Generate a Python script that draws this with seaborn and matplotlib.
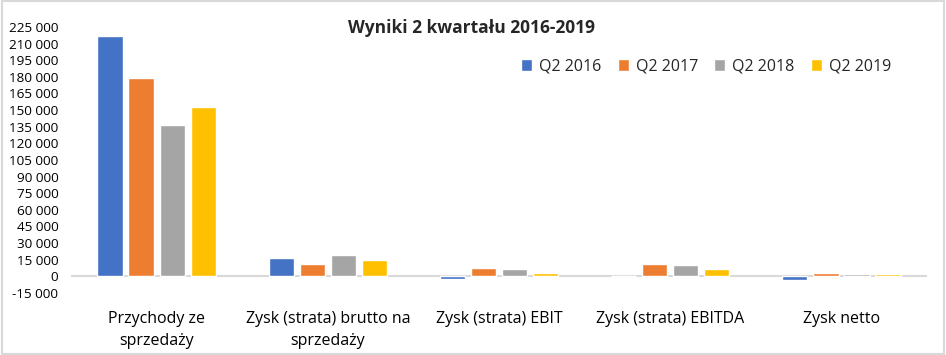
import matplotlib
matplotlib.use("Agg")
import matplotlib.pyplot as plt
import seaborn as sns
import pandas as pd
from matplotlib.ticker import FuncFormatter, MultipleLocator
from matplotlib.patches import Rectangle

categories = ["Przychody ze\nsprzedaży", "Zysk (strata) brutto na\nsprzedaży",
              "Zysk (strata) EBIT", "Zysk (strata) EBITDA", "Zysk netto"]
series = ["Q2 2016", "Q2 2017", "Q2 2018", "Q2 2019"]
q2_2016 = [217000, 16800, -2500, 0, -3300]
q2_2017 = [178500, 11400, 7800, 11400, 3300]
q2_2018 = [136800, 19500, 6900, 10500, 2400]
q2_2019 = [153000, 15000, 3300, 6900, 2400]
colors = ["#4472C4", "#ED7D31", "#A5A5A5", "#FFC000"]
title = "Wyniki 2 kwartału 2016-2019"

rows = []
for s, vals in zip(series, [q2_2016, q2_2017, q2_2018, q2_2019]):
    for c, v in zip(categories, vals):
        rows.append({"cat": c, "series": s, "value": v})
df = pd.DataFrame(rows)

sns.set_theme(style="white")
plt.rcParams["font.family"] = ["Open Sans", "DejaVu Sans"]

fig = plt.figure(figsize=(9.46, 3.55), dpi=100)
ax = fig.add_axes([0.075, 0.175, 0.905, 0.749])
sns.barplot(data=df, x="cat", y="value", hue="series", palette=colors,
            order=categories, hue_order=series, width=0.725, gap=0.19,
            saturation=1, ax=ax, errorbar=None, legend=True)

ax.set_ylim(-15000, 225000)
ax.yaxis.set_major_locator(MultipleLocator(15000))
ax.yaxis.set_major_formatter(FuncFormatter(lambda v, p: f"{int(v):,}".replace(",", " ")))
ax.set_xlim(-0.5, len(categories) - 0.5)
for sp in ax.spines.values():
    sp.set_visible(False)
ax.axhline(0, color="#D9D9D9", lw=1.5, zorder=0.5)
ax.set_xlabel("")
ax.set_ylabel("")
ax.tick_params(axis="y", labelsize=9.7, pad=9, length=0, colors="#000000")
ax.tick_params(axis="x", labelsize=11.5, pad=13, length=0, colors="#000000")
for lab in ax.get_xticklabels():
    lab.set_linespacing(1.5)
ax.grid(False)

leg = ax.legend(loc="upper right", bbox_to_anchor=(0.975, 0.935), ncol=4,
                frameon=False, fontsize=11.5, handlelength=0.7, handleheight=0.7,
                handletextpad=0.45, columnspacing=1.0)

fig.text(0.498, 0.922, title, ha="center", va="center", fontsize=12.5, fontweight="bold")
fig.patches.append(Rectangle((0.002, 0.003), 0.996, 0.994, transform=fig.transFigure,
                             fill=False, edgecolor="#D9D9D9", lw=1.5))
fig.savefig("out.png", dpi=100)
